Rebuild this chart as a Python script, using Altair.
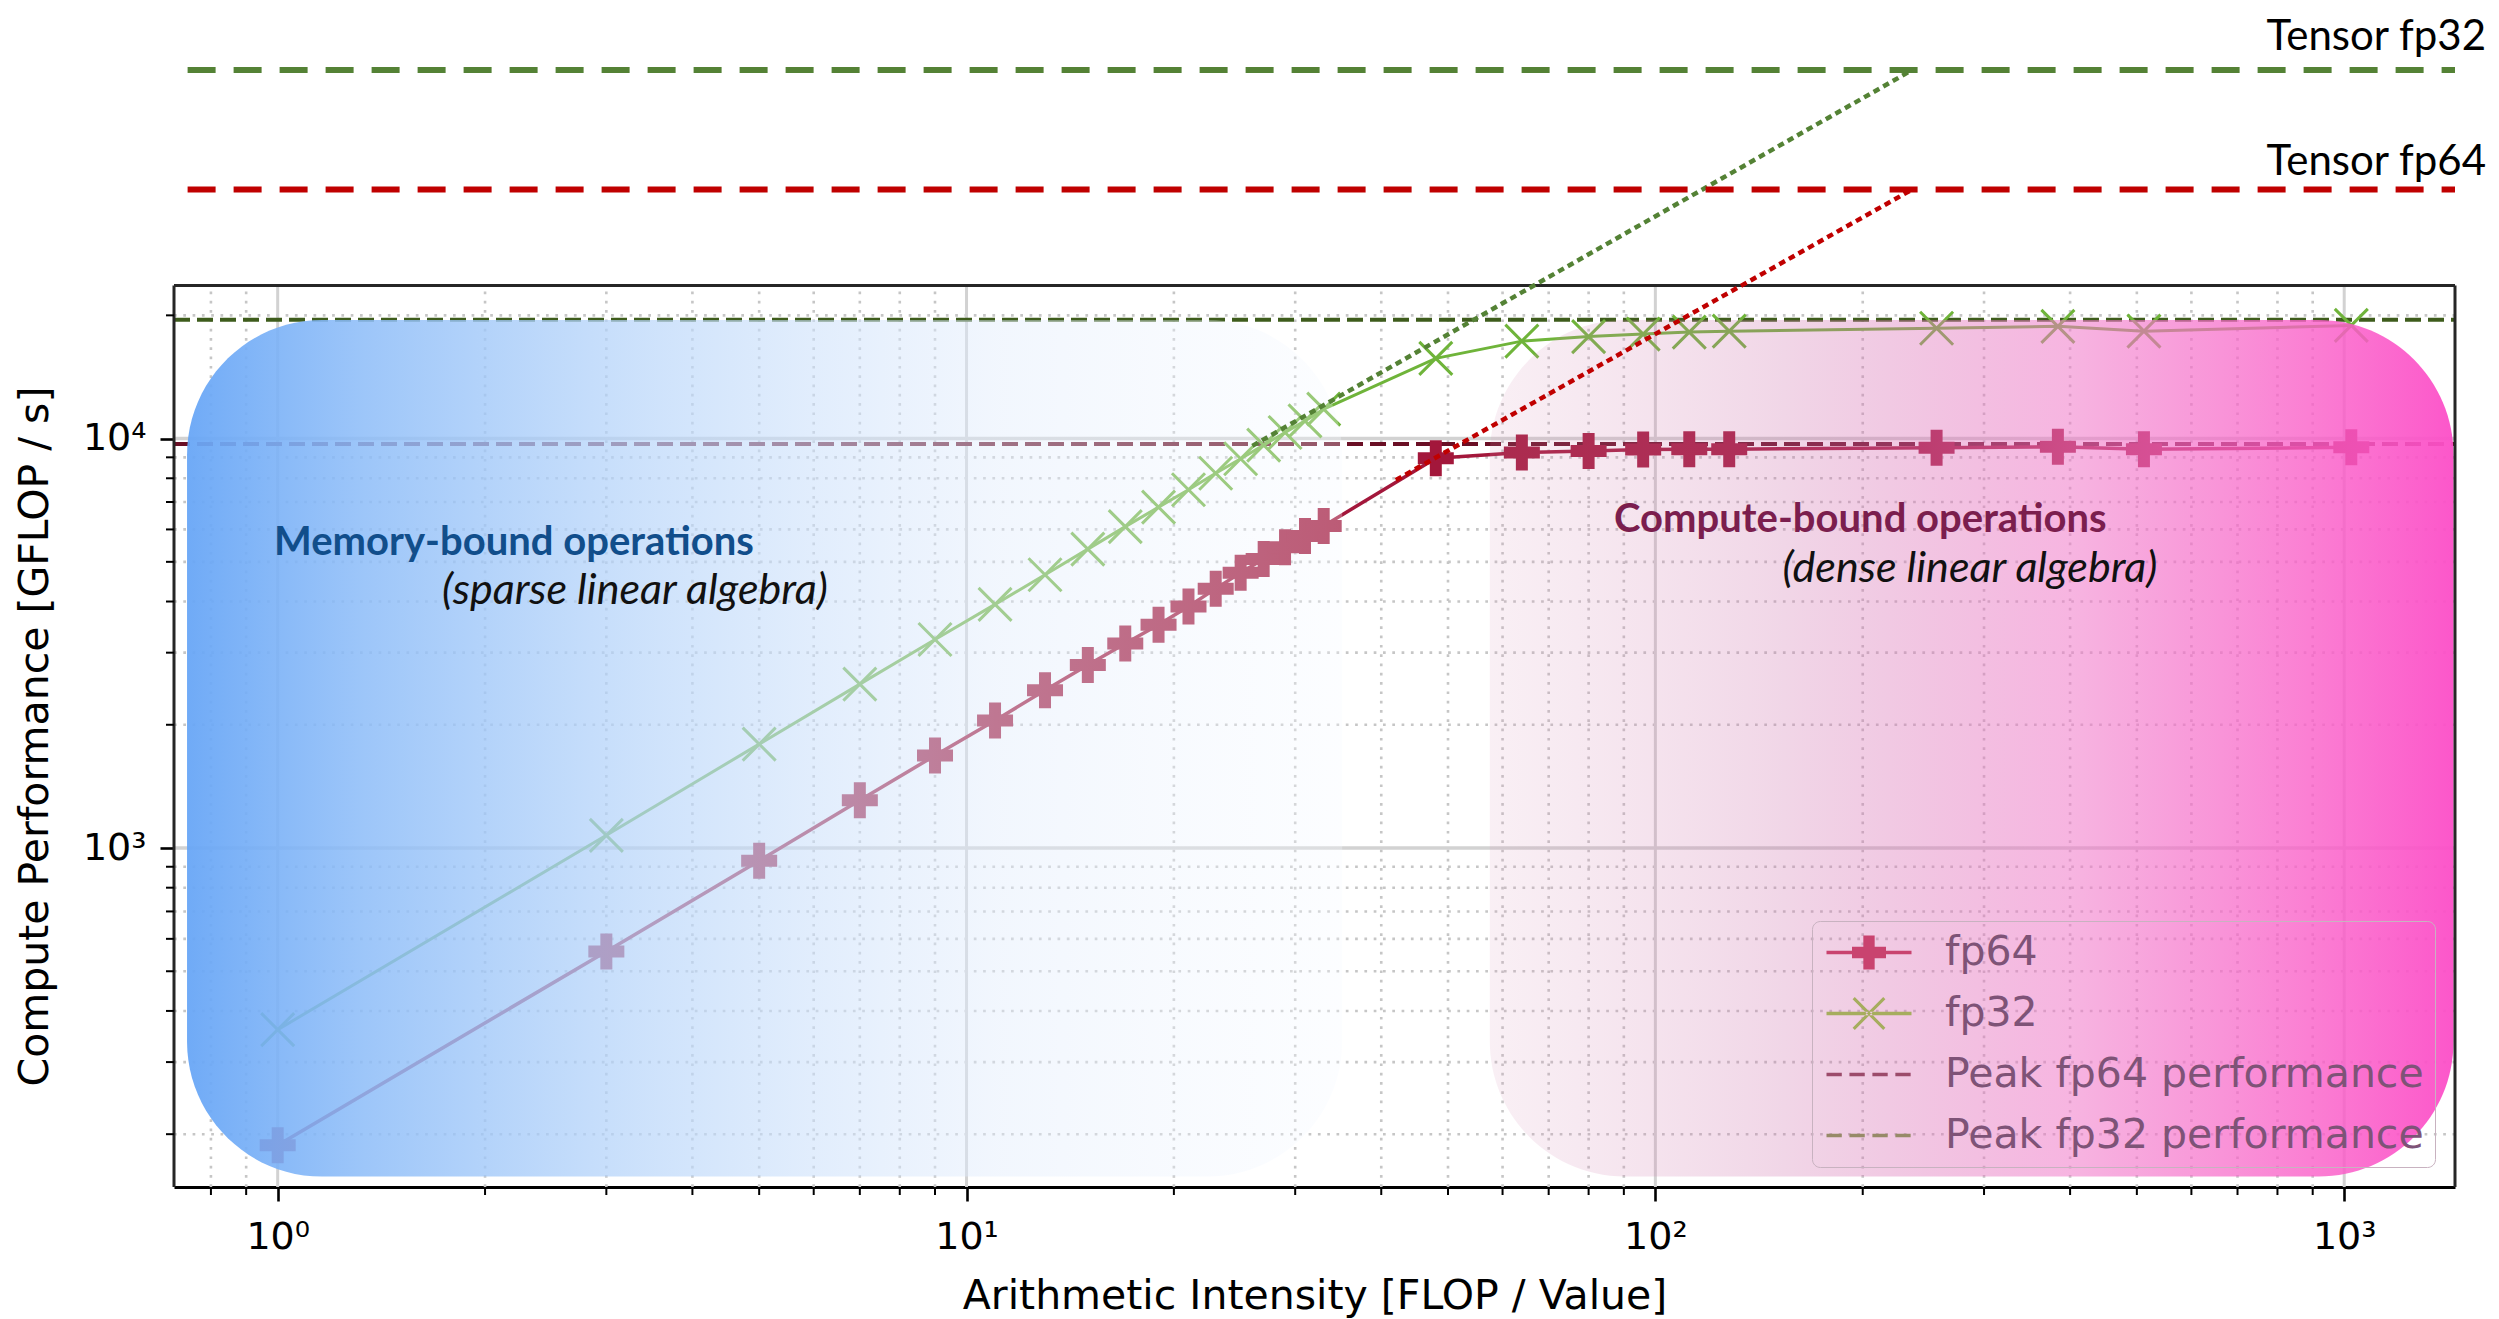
import altair as alt
import pandas as pd

# ---------------- data ----------------
intensity = [1, 3, 5, 7, 9, 11, 13, 15, 17, 19, 21, 23, 25, 27, 29, 31, 33,
             48, 64, 80, 96, 112, 128, 256, 384, 512, 1024]
fp64_perf = [188, 559, 931, 1309, 1682, 2048, 2430, 2800, 3160, 3510, 3890, 4300, 4700,
             5080, 5430, 5780, 6120, 8950, 9250, 9330, 9400, 9420, 9420, 9500, 9550, 9420, 9520]
fp32_perf = [360, 1074, 1794, 2514, 3231, 3936, 4650, 5370, 6095, 6800, 7500, 8230, 8930,
             9640, 10350, 11050, 11800, 15700, 17300, 17750, 18000, 18200, 18300, 18600, 18800, 18300, 18900]

peak_names = ["Peak fp64 performance", "Peak fp32 performance"]
peak_values = [9700, 19500]

tensor_names = ["Tensor fp64", "Tensor fp32"]
tensor_values = [40600, 79500]
tensor_start_x = [0.74, 0.74]
tensor_knee_x = [236, 236]
roof_start_x = [42, 26]
roof_start_y = [7920, 9600]

region_names = ["memory", "compute"]
region_x0 = [0.7386, 57.5]
region_x1 = [35.1, 1441]
region_y0 = [157.6, 157.6]
region_y1 = [19470, 19470]

ann_text = ["Memory-bound operations", "(sparse linear algebra)",
            "Compute-bound operations", "(dense linear algebra)"]
ann_x = [0.988, 1.732, 87.1, 153]
ann_y = [5196, 3950, 5914, 4464]

legend_names = ["fp64", "fp32", "Peak fp64 performance", "Peak fp32 performance"]
legend_colors = ["#c9436f", "#a6ad5e", "#9c4b6b", "#978a68"]

x_major = [1, 10, 100, 1000]
x_minor = [0.8, 0.9, 2, 3, 4, 5, 6, 7, 8, 9, 20, 30, 40, 50, 60, 70, 80, 90,
           200, 300, 400, 500, 600, 700, 800, 900]
y_major = [1000, 10000]
y_minor = [200, 300, 400, 500, 600, 700, 800, 900,
           2000, 3000, 4000, 5000, 6000, 7000, 8000, 9000, 20000]

X_DOMAIN = [0.7071, 1448.2]
Y_DOMAIN = [148.6, 112650]
Y_FRAME = 23660

# ---------------- axes / scales ----------------
XS = alt.Scale(type="log", domain=X_DOMAIN, nice=False)
YS = alt.Scale(type="log", domain=Y_DOMAIN, nice=False)

SUP = ("datum.value == 1 ? '10\u2070' : datum.value == 10 ? '10\u00b9' : "
       "datum.value == 100 ? '10\u00b2' : datum.value == 1000 ? '10\u00b3' : "
       "datum.value == 10000 ? '10\u2074' : ''")

x_axis = alt.Axis(
    values=x_major, labelExpr=SUP, tickSize=14, tickWidth=2.6,
    tickColor="#000000", domain=True, domainColor="#000000", domainWidth=3, grid=False,
    labelFont="DejaVu Sans", labelFontSize=38, labelColor="#000000", labelPadding=17,
    labelOverlap=False, labelFlush=False,
    title="Arithmetic Intensity [FLOP / Value]", titleFont="DejaVu Sans", titleFontSize=41,
    titleFontWeight="normal", titleColor="#000000", titleY=121, titleBaseline="alphabetic",
)
y_axis = alt.Axis(
    values=y_major, labelExpr=SUP, tickSize=14, tickWidth=2.6,
    tickColor="#000000", domain=False, grid=False,
    labelFont="DejaVu Sans", labelFontSize=38, labelColor="#000000", labelPadding=14,
    labelOverlap=False, labelFlush=False,
    title="Compute Performance [GFLOP / s]", titleFont="DejaVu Sans", titleFontSize=41,
    titleFontWeight="normal", titleColor="#000000", titleX=-127, titleY=728,
    titleBaseline="alphabetic",
)


# every layer declares the very same axis, so the layered axes merge cleanly
def xq(f):
    return alt.X(f, type="quantitative", scale=XS, axis=x_axis)


def yq(f):
    return alt.Y(f, type="quantitative", scale=YS, axis=y_axis)


def rect_path(x0, y0, x1, y1):
    return f"M{x0:.3f},{y0:.3f}L{x1:.3f},{y0:.3f}L{x1:.3f},{y1:.3f}L{x0:.3f},{y1:.3f}Z"


def plus_path(cx, h=1.0, a=1 / 3):
    pts = [(-a, -h), (a, -h), (a, -a), (h, -a), (h, a), (a, a), (a, h), (-a, h),
           (-a, a), (-h, a), (-h, -a), (-a, -a)]
    return "M" + "L".join(f"{cx + px:.3f},{py:.3f}" for px, py in pts) + "Z"


def bar_path(p, q, w):
    dx, dy = q[0] - p[0], q[1] - p[1]
    ln = (dx * dx + dy * dy) ** 0.5
    nx, ny = -dy / ln * w, dx / ln * w
    pts = [(p[0] + nx, p[1] + ny), (q[0] + nx, q[1] + ny), (q[0] - nx, q[1] - ny), (p[0] - nx, p[1] - ny)]
    return "M" + "L".join(f"{a:.3f},{b:.3f}" for a, b in pts) + "Z"


LINE = rect_path(-1, -0.1, 4, 0.1)
LEG_FP64 = LINE + plus_path(1.5)
LEG_FP32 = LINE + bar_path((0.6, -0.9), (2.4, 0.9), 0.09) + bar_path((0.6, 0.9), (2.4, -0.9), 0.09)
LEG_DASH = "".join(rect_path(-1 + i * 1.35, -0.1, -1 + i * 1.35 + 0.9, 0.1) for i in range(4))
legend_paths = [LEG_FP64, LEG_FP32, LEG_DASH, LEG_DASH]

PLUS_MARK = plus_path(0)
X_MARK = "M-1,-1L1,1M-1,1L1,-1"

# ---------------- tables ----------------
series_df = pd.DataFrame({
    "x": intensity * 2,
    "perf": fp64_perf + fp32_perf,
    "series": ["fp64"] * len(intensity) + ["fp32"] * len(intensity),
})
vgrid = pd.DataFrame({"x": x_major + x_minor,
                      "kind": ["major"] * len(x_major) + ["minor"] * len(x_minor),
                      "y0": Y_DOMAIN[0], "y1": Y_FRAME})
hgrid = pd.DataFrame({"y": y_major + y_minor,
                      "kind": ["major"] * len(y_major) + ["minor"] * len(y_minor),
                      "x0": X_DOMAIN[0], "x1": X_DOMAIN[1]})
peak_df = pd.DataFrame({"name": peak_names, "y": peak_values,
                        "x0": X_DOMAIN[0], "x1": X_DOMAIN[1]})
tensor_df = pd.DataFrame({"name": tensor_names, "y": tensor_values,
                          "x0": tensor_start_x, "x1": X_DOMAIN[1]})
roof_df = pd.DataFrame({
    "name": tensor_names * 2,
    "x": roof_start_x + tensor_knee_x,
    "y": roof_start_y + tensor_values,
})
region_df = pd.DataFrame({"name": region_names, "x0": region_x0, "x1": region_x1,
                          "y0": region_y0, "y1": region_y1})
ann_df = pd.DataFrame({"text": ann_text, "x": ann_x, "y": ann_y})
frame_df = pd.DataFrame({
    "side": ["top", "left", "right"],
    "x0": [X_DOMAIN[0], X_DOMAIN[0], X_DOMAIN[1]],
    "x1": [X_DOMAIN[1], X_DOMAIN[0], X_DOMAIN[1]],
    "y0": [Y_FRAME, Y_DOMAIN[0], Y_DOMAIN[0]],
    "y1": [Y_FRAME, Y_FRAME, Y_FRAME],
})

# ---------------- layers ----------------
grid_v_minor = alt.Chart(vgrid).transform_filter("datum.kind == 'minor'").mark_rule(
    color="#c6c6c6", strokeWidth=2.6, strokeDash=[2.7, 6.6]).encode(
    x=xq("x"), y=yq("y0"), y2="y1")
grid_v_major = alt.Chart(vgrid).transform_filter("datum.kind == 'major'").mark_rule(
    color="#d2d2d2", strokeWidth=3).encode(x=xq("x"), y=yq("y0"), y2="y1")
grid_h_minor = alt.Chart(hgrid).transform_filter("datum.kind == 'minor'").mark_rule(
    color="#c6c6c6", strokeWidth=2.6, strokeDash=[2.7, 6.6]).encode(
    y=yq("y"), x=xq("x0"), x2="x1")
grid_h_major = alt.Chart(hgrid).transform_filter("datum.kind == 'major'").mark_rule(
    color="#d2d2d2", strokeWidth=3.5).encode(y=yq("y"), x=xq("x0"), x2="x1")

# minor ticks on the outside of the bottom and left spines
x_minor_ticks = alt.Chart(vgrid).transform_filter("datum.kind == 'minor'").mark_tick(
    orient="vertical", size=8, thickness=2, color="#000000", yOffset=4, opacity=1).encode(
    x=xq("x"), y=yq("y0"))
y_minor_ticks = alt.Chart(hgrid).transform_filter("datum.kind == 'minor'").mark_tick(
    orient="horizontal", size=8, thickness=2, color="#000000", xOffset=-4, opacity=1).encode(
    y=yq("y"), x=xq("x0"))


def peak_layer(name, color):
    return alt.Chart(peak_df).transform_filter(f"datum.name == '{name}'").mark_rule(
        color=color, strokeWidth=4, strokeDash=[16, 7]).encode(y=yq("y"), x=xq("x0"), x2="x1")


peak64 = peak_layer("Peak fp64 performance", "#6a0f25")
peak32 = peak_layer("Peak fp32 performance", "#3e5c1c")

FP64_C = "#a3173b"
FP32_C = "#6fb43a"

fp64_line = alt.Chart(series_df).transform_filter("datum.series == 'fp64'").mark_line(
    color=FP64_C, strokeWidth=3.5).encode(x=xq("x"), y=yq("perf"), order="x:Q")
fp32_line = alt.Chart(series_df).transform_filter("datum.series == 'fp32'").mark_line(
    color=FP32_C, strokeWidth=3).encode(x=xq("x"), y=yq("perf"), order="x:Q")
fp64_pts = alt.Chart(series_df).transform_filter("datum.series == 'fp64'").mark_point(
    shape=PLUS_MARK, filled=True, size=1296, color=FP64_C, opacity=1, strokeWidth=0).encode(
    x=xq("x"), y=yq("perf"))
fp32_pts = alt.Chart(series_df).transform_filter("datum.series == 'fp32'").mark_point(
    shape=X_MARK, filled=False, size=1089, color=FP32_C, opacity=1, strokeWidth=3).encode(
    x=xq("x"), y=yq("perf"))

blue_grad = alt.Gradient(
    gradient="linear", x1=0, x2=1, y1=0, y2=0,
    stops=[
        alt.GradientStop(color="rgba(104,166,246,0.95)", offset=0),
        alt.GradientStop(color="rgba(140,188,248,0.86)", offset=0.15),
        alt.GradientStop(color="rgba(185,214,250,0.70)", offset=0.4),
        alt.GradientStop(color="rgba(225,236,252,0.45)", offset=0.7),
        alt.GradientStop(color="rgba(245,249,255,0.30)", offset=1),
    ])
pink_grad = alt.Gradient(
    gradient="linear", x1=0, x2=1, y1=0, y2=0,
    stops=[
        alt.GradientStop(color="rgba(215,150,185,0.15)", offset=0),
        alt.GradientStop(color="rgba(205,110,170,0.28)", offset=0.3),
        alt.GradientStop(color="rgba(240,120,200,0.55)", offset=0.6),
        alt.GradientStop(color="rgba(250,95,200,0.80)", offset=0.85),
        alt.GradientStop(color="rgba(252,80,200,0.96)", offset=1),
    ])


def region_layer(name, grad):
    return alt.Chart(region_df).transform_filter(f"datum.name == '{name}'").mark_rect(
        cornerRadius=135, fill=grad).encode(x=xq("x0"), x2="x1", y=yq("y0"), y2="y1")


blue_rect = region_layer("memory", blue_grad)
pink_rect = region_layer("compute", pink_grad)

frame = alt.Chart(frame_df).mark_rule(color="#262626", strokeWidth=3).encode(
    x=xq("x0"), x2="x1", y=yq("y0"), y2="y1")


def ann_layer(i, **style):
    return alt.Chart(ann_df).transform_filter(f"datum.text == '{ann_text[i]}'").mark_text(
        align="left", baseline="alphabetic", font="Lato", **style).encode(
        x=xq("x"), y=yq("y"), text="text:N")


ann1 = ann_layer(0, fontSize=40, fontWeight="bold", color="#114e8b")
ann2 = ann_layer(1, fontSize=43, fontStyle="italic", color="#111111")
ann3 = ann_layer(2, fontSize=40, fontWeight="bold", color="#7b1e4e")
ann4 = ann_layer(3, fontSize=43, fontStyle="italic", color="#111111")


def roof_layer(name, color):
    return alt.Chart(roof_df).transform_filter(f"datum.name == '{name}'").mark_line(
        color=color, strokeWidth=4.5, strokeDash=[6.5, 4.5]).encode(
        x=xq("x"), y=yq("y"), order="x:Q")


def tensor_layer(name, color):
    return alt.Chart(tensor_df).transform_filter(f"datum.name == '{name}'").mark_rule(
        color=color, strokeWidth=6, strokeDash=[28, 18]).encode(y=yq("y"), x=xq("x0"), x2="x1")


def tensor_label(name, dy):
    return alt.Chart(tensor_df).transform_filter(f"datum.name == '{name}'").mark_text(
        align="right", baseline="alphabetic", dx=31, dy=dy, font="Lato", fontSize=42,
        color="#000000").encode(x=xq("x1"), y=yq("y"), text="name:N")


roof64 = roof_layer("Tensor fp64", "#c00000")
roof32 = roof_layer("Tensor fp32", "#548235")
tens64 = tensor_layer("Tensor fp64", "#c00000")
tens32 = tensor_layer("Tensor fp32", "#548235")
lab64 = tensor_label("Tensor fp64", -14)
lab32 = tensor_label("Tensor fp32", -20)

LEG = alt.Legend(
    title=None, orient="bottom-right", offset=20,
    fillColor="rgba(255,255,255,0)", strokeColor="#c8b2c0", cornerRadius=8, padding=11,
    labelFont="DejaVu Sans", labelFontSize=41, labelColor="#7e5377", labelLimit=800,
    symbolSize=1156, symbolStrokeWidth=0, symbolOffset=0, labelOffset=81, rowPadding=19,
)
legend_layer = alt.Chart(pd.DataFrame({"series": legend_names})).transform_filter(
    "false").mark_point(filled=True, opacity=1).encode(
    color=alt.Color("series:N", scale=alt.Scale(domain=legend_names, range=legend_colors), legend=LEG),
    shape=alt.Shape("series:N", scale=alt.Scale(domain=legend_names, range=legend_paths), legend=LEG),
)

chart = alt.layer(
    grid_v_minor, grid_h_minor, grid_v_major, grid_h_major,
    peak64, peak32,
    fp64_line, fp32_line, fp64_pts, fp32_pts,
    blue_rect, pink_rect,
    frame, x_minor_ticks, y_minor_ticks,
    ann1, ann2, ann3, ann4,
    roof64, roof32, tens64, tens32, lab64, lab32,
    legend_layer,
).properties(
    width=2281, height=1179,
    autosize=alt.AutoSizeParams(type="none"),
    padding={"left": 166, "top": 0, "right": 36, "bottom": 132},
    background="#ffffff",
).configure_view(stroke="transparent")

chart.save("out.html", embed_options={"renderer": "svg", "actions": False})
